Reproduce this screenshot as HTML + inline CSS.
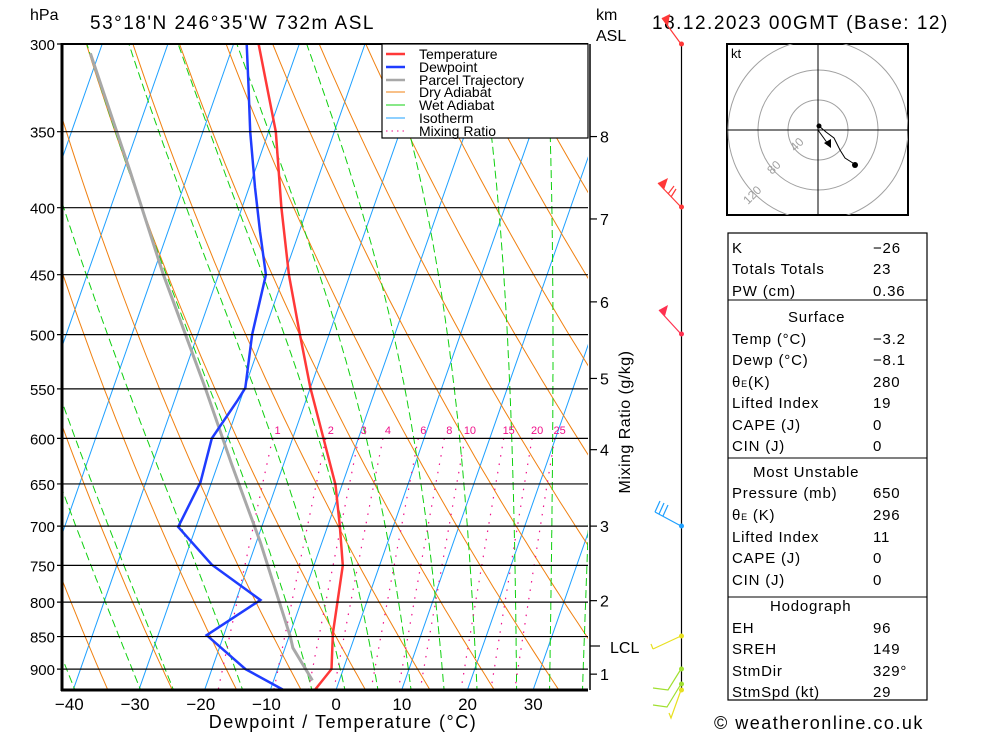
<!DOCTYPE html>
<html><head><meta charset="utf-8"><style>
html,body{margin:0;padding:0;background:#fff;}
svg{display:block;font-family:"Liberation Sans",sans-serif;}
</style></head><body>
<svg id="chart" width="1000" height="733" viewBox="0 0 1000 733" xmlns="http://www.w3.org/2000/svg">
<defs><clipPath id="plotclip"><rect x="62" y="44" width="526" height="646"/></clipPath></defs>
<g id="bg" clip-path="url(#plotclip)"></g>
<g id="series" clip-path="url(#plotclip)"></g>
<g id="axes"></g>
</svg>
<script>
// ---- data ----
const tempP = [933, 900, 845, 750, 701, 651, 600, 549, 498, 450, 400, 350, 300];
const tempT = [-3.2, -1.8, -3.5, -5.6, -8.1, -11.0, -15.3, -20.0, -24.6, -29.3, -34.0, -38.9, -46.2];
const dewP = [933, 900, 848, 797, 749, 701, 648, 600, 561, 549, 500, 450, 417, 386, 350, 323, 300];
const dewT = [-8.1, -14.9, -22.6, -16.3, -25.6, -32.7, -31.7, -32.3, -30.4, -29.9, -31.7, -32.8, -36.0, -39.1, -42.8, -45.5, -48.0];
const parcelP = [918, 867, 850, 720, 628, 549, 450, 375, 305];
const parcelT = [-4.1, -8.8, -9.8, -19.4, -27.9, -36.0, -48.4, -59.0, -71.3];
const pressureTicks = [300, 350, 400, 450, 500, 550, 600, 650, 700, 750, 800, 850, 900];
const tempTicks = [-40, -30, -20, -10, 0, 10, 20, 30];
const mixRatios = [1, 2, 3, 4, 6, 8, 10, 15, 20, 25];
const kmLabels = ["8", "7", "6", "5", "4", "3", "2", "1"];
const kmP = [353, 408, 472, 540, 612, 700, 798, 908];
const wetBaseT = [-49, -39, -29, -24, -13.5, -3, 2, 7, 12, 17, 22, 28, 33, 38];

// ---- scales ----
const NS = "http://www.w3.org/2000/svg";
function yP(p){ return 44 + 569*Math.log(p/300); }
function xT(T,p){ return 336 + 6.57*T + 0.35*(690 - yP(p)); }
function mk(tag, attrs, parent){ const e=document.createElementNS(NS,tag); for(const k in attrs) e.setAttribute(k, attrs[k]); parent.appendChild(e); return e; }
const bg=document.getElementById('bg'), ser=document.getElementById('series'), ax=document.getElementById('axes');
function polyPts(ps, ts){ return ps.map((p,i)=>xT(ts[i],p).toFixed(1)+','+yP(p).toFixed(1)).join(' '); }

// isotherms
for(let T=-110; T<=50; T+=10){
  const l=mk('line',{x1:xT(T,933),y1:yP(933),x2:xT(T,300),y2:yP(300),stroke:'#1ea0ff','stroke-width':1},bg);
  
  
}
// dry adiabats
for(let th=-60; th<=120; th+=10){
  const ps=[],ts=[];
  for(let p=300;p<=940;p+=10){ ps.push(p); ts.push((th+273.15)*Math.pow(p/1000,0.2857)-273.15); }
  const l=mk('polyline',{points:polyPts(ps,ts),fill:'none',stroke:'#f08010','stroke-width':1},bg);
  
  
}
// wet adiabats: integrate upward from 940 hPa starting temperature
function es(T){ return 6.112*Math.exp(17.67*T/(T+243.5)); }
function wetLine(t0){
  let T=t0+273.15, p=940;
  const ps=[],ts=[];
  while(p>=296){
    ps.push(p); ts.push(T-273.15);
    const e=es(T-273.15), rs=0.622*e/(p-e);
    const Lv=2.5e6, Rd=287, Cp=1004;
    const dTdp=(1/p)*(Rd*T+Lv*rs)/(Cp+Lv*Lv*rs*0.622/(Rd*T*T));
    T+=dTdp*(-2); p-=2;
  }
  return [ps,ts];
}
wetBaseT.forEach(t0=>{
  const [ps,ts]=wetLine(t0-0.3);
  const l=mk('polyline',{points:polyPts(ps,ts),fill:'none',stroke:'#10d010','stroke-width':1,'stroke-dasharray':'8,4'},bg);
  
  
});
// mixing ratio
function tdFromW(w,p){ const e=w*p/(622+w); const a=Math.log(e/6.112); return 243.5*a/(17.67-a); }
mixRatios.forEach(w=>{
  const ps=[],ts=[];
  for(let p=600;p<=940;p+=10){ ps.push(p); ts.push(tdFromW(w,p)); }
  const l=mk('polyline',{points:polyPts(ps,ts),fill:'none',stroke:'#f0108a','stroke-width':1.2,'stroke-dasharray':'1.5,7'},bg);
  
  
  const t=mk('text',{x:xT(tdFromW(w,600),600)+5,y:434,'font-size':11,fill:'#f0108a','text-anchor':'middle'},bg);
  t.textContent=w;
  
  
});
// pressure lines
pressureTicks.forEach(p=>{
  const l=mk('line',{x1:57,y1:yP(p),x2:588,y2:yP(p),stroke:'#000','stroke-width':1.2},ax);
  
  
  const t=mk('text',{x:55,y:yP(p)+6,'font-size':15,'text-anchor':'end',fill:'#000'},ax);
  t.textContent=p;
  
  
});
// series
const parcel=mk('polyline',{points:polyPts(parcelP,parcelT),fill:'none',stroke:'#a8a8a8','stroke-width':3},ser);


const dew=mk('polyline',{points:polyPts(dewP,dewT),fill:'none',stroke:'#1f3cff','stroke-width':2.5},ser);


const tmp=mk('polyline',{points:polyPts(tempP,tempT),fill:'none',stroke:'#ff3838','stroke-width':2.5},ser);


// frame
mk('line',{x1:62,y1:43,x2:62,y2:691,stroke:'#000','stroke-width':3},ax);
mk('line',{x1:61,y1:690,x2:588,y2:690,stroke:'#000','stroke-width':3},ax);
mk('line',{x1:62,y1:44,x2:588,y2:44,stroke:'#000','stroke-width':2},ax);
// x tick labels
tempTicks.forEach(T=>{
  const t=mk('text',{x:xT(T,933)+(T<0?-4:0),y:710,'font-size':17,'text-anchor':'middle',fill:'#000'},ax);
  t.textContent=(T<0?'\u2212'+(-T):T);
  
  
});
// km axis
mk('line',{x1:590,y1:44,x2:590,y2:690,stroke:'#000','stroke-width':1.5},ax);
kmLabels.forEach((k,i)=>{
  const y=yP(kmP[i]);
  mk('line',{x1:590,y1:y,x2:597,y2:y,stroke:'#000','stroke-width':1.2},ax);
  const t=mk('text',{x:600,y:y+6,'font-size':16,fill:'#000'},ax);
  t.textContent=k;
  
  
});
mk('line',{x1:590,y1:646,x2:600,y2:646,stroke:'#000','stroke-width':1.2},ax);
</script>
<svg width="1000" height="733" style="position:absolute;left:0;top:0" xmlns="http://www.w3.org/2000/svg" font-family="Liberation Sans, sans-serif">
<text x="30" y="20" font-size="16">hPa</text>
<text x="90" y="29" font-size="19" letter-spacing="1.5">53°18'N  246°35'W  732m  ASL</text>
<text x="596" y="20" font-size="16">km</text>
<text x="596" y="41" font-size="16">ASL</text>
<text x="652" y="29" font-size="19" letter-spacing="1.5">18.12.2023 00GMT (Base: 12)</text>
<text x="610" y="653" font-size="16">LCL</text>
<text transform="translate(630,422) rotate(-90)" font-size="16" text-anchor="middle" letter-spacing="0.5">Mixing Ratio (g/kg)</text>
<text x="343" y="728" font-size="18" text-anchor="middle" letter-spacing="1.5">Dewpoint / Temperature (°C)</text>
<g font-size="14">
<rect x="382" y="44" width="206" height="94" fill="#fff" stroke="#000" stroke-width="1.2"/>
<line x1="386" y1="54" x2="405" y2="54" stroke="#ff3838" stroke-width="2.5"/><text x="419" y="59">Temperature</text>
<line x1="386" y1="67" x2="405" y2="67" stroke="#1f3cff" stroke-width="2.5"/><text x="419" y="72">Dewpoint</text>
<line x1="386" y1="80" x2="405" y2="80" stroke="#a8a8a8" stroke-width="2.5"/><text x="419" y="85">Parcel Trajectory</text>
<line x1="386" y1="92" x2="405" y2="92" stroke="#f08010"/><text x="419" y="97">Dry Adiabat</text>
<line x1="386" y1="105" x2="405" y2="105" stroke="#10d010"/><text x="419" y="110">Wet Adiabat</text>
<line x1="386" y1="118" x2="405" y2="118" stroke="#1ea0ff"/><text x="419" y="123">Isotherm</text>
<line x1="386" y1="131" x2="405" y2="131" stroke="#f0108a" stroke-dasharray="1.5,4"/><text x="419" y="136">Mixing Ratio</text>
</g>
<g stroke-width="1.2">
<line x1="681.5" y1="44" x2="681.5" y2="690" stroke="#000"/>
<line x1="681" y1="44" x2="662" y2="18" stroke="#ff3838"/><polygon points="662,18 670,14 668,26" fill="#ff3838"/><circle cx="681.5" cy="44" r="2.5" fill="#ff3838"/>
<line x1="681" y1="207" x2="658" y2="183" stroke="#ff3838"/><polygon points="658,183 668,178 664,190" fill="#ff3838"/><line x1="668" y1="194" x2="674" y2="186" stroke="#ff3838"/><line x1="671" y1="197" x2="676" y2="189" stroke="#ff3838"/><circle cx="681.5" cy="207" r="2.5" fill="#ff3838"/>
<line x1="681" y1="334" x2="659" y2="310" stroke="#ff3050"/><polygon points="659,310 668,305 665,316" fill="#ff3050"/><circle cx="681.5" cy="334" r="2.5" fill="#ff3050"/>
<line x1="681" y1="526" x2="655" y2="512" stroke="#1ea0ff"/><line x1="655" y1="512" x2="660" y2="501" stroke="#1ea0ff"/><line x1="659" y1="514" x2="664" y2="503" stroke="#1ea0ff"/><line x1="663" y1="516" x2="668" y2="505" stroke="#1ea0ff"/><circle cx="681.5" cy="526" r="2.5" fill="#1ea0ff"/>
<line x1="681" y1="636" x2="653" y2="649" stroke="#e8e020"/><line x1="653" y1="649" x2="651" y2="644" stroke="#e8e020"/><circle cx="681.5" cy="636" r="2.5" fill="#e8e020"/>
<polyline points="681,669 668,690 653,688" fill="none" stroke="#a0e030"/><circle cx="681.5" cy="669" r="2.5" fill="#a0e030"/>
<polyline points="681,684 667,707 653,705" fill="none" stroke="#a0e030"/><circle cx="681.5" cy="684" r="2.5" fill="#a0e030"/>
<polyline points="681,690 671,718 669,713" fill="none" stroke="#e8e020"/><circle cx="681.5" cy="690" r="2.5" fill="#e8e020"/>
</g>
<g>
<defs><clipPath id="hodoclip"><rect x="727" y="44" width="181" height="171"/></clipPath></defs>
<rect x="727" y="44" width="181" height="171" fill="#fff" stroke="#000" stroke-width="2"/>
<g clip-path="url(#hodoclip)">
<circle cx="818" cy="130" r="30" fill="none" stroke="#a0a0a0"/>
<circle cx="818" cy="130" r="60" fill="none" stroke="#a0a0a0"/>
<circle cx="818" cy="130" r="90" fill="none" stroke="#a0a0a0"/>
</g>
<line x1="727" y1="130" x2="908" y2="130" stroke="#000"/>
<line x1="818" y1="44" x2="818" y2="215" stroke="#000"/>
<text x="731" y="58" font-size="13">kt</text>
<g fill="#a0a0a0" font-size="12"><text transform="translate(795,152) rotate(-45)">40</text><text transform="translate(772,175) rotate(-45)">80</text><text transform="translate(748,205) rotate(-45)">120</text></g>
<polyline points="819,126 826,132 834,138 840,150 845,158 856,165" fill="none" stroke="#000"/>
<circle cx="819" cy="126" r="2.5"/><circle cx="855" cy="165" r="3"/>
<line x1="818" y1="130" x2="828" y2="144" stroke="#000"/><polygon points="824,143 831,139 831,148"/>
</g>
<g font-size="15" letter-spacing="0.8">
<rect x="728" y="233" width="199" height="467" fill="none" stroke="#000" stroke-width="1.2"/>
<line x1="728" y1="300" x2="927" y2="300" stroke="#000"/><line x1="728" y1="458" x2="927" y2="458" stroke="#000"/><line x1="728" y1="597" x2="927" y2="597" stroke="#000"/>
<text x="732" y="253">K</text><text x="873" y="253">−26</text>
<text x="732" y="274">Totals Totals</text><text x="873" y="274">23</text>
<text x="732" y="296">PW (cm)</text><text x="873" y="296">0.36</text>
<text x="788" y="322">Surface</text>
<text x="732" y="344">Temp (°C)</text><text x="873" y="344">−3.2</text>
<text x="732" y="365">Dewp (°C)</text><text x="873" y="365">−8.1</text>
<text x="732" y="387">θ<tspan font-size="9">E</tspan>(K)</text><text x="873" y="387">280</text>
<text x="732" y="408">Lifted Index</text><text x="873" y="408">19</text>
<text x="732" y="430">CAPE (J)</text><text x="873" y="430">0</text>
<text x="732" y="451">CIN (J)</text><text x="873" y="451">0</text>
<text x="753" y="477">Most Unstable</text>
<text x="732" y="498">Pressure (mb)</text><text x="873" y="498">650</text>
<text x="732" y="520">θ<tspan font-size="9">E</tspan> (K)</text><text x="873" y="520">296</text>
<text x="732" y="542">Lifted Index</text><text x="873" y="542">11</text>
<text x="732" y="563">CAPE (J)</text><text x="873" y="563">0</text>
<text x="732" y="585">CIN (J)</text><text x="873" y="585">0</text>
<text x="770" y="611">Hodograph</text>
<text x="732" y="633">EH</text><text x="873" y="633">96</text>
<text x="732" y="654">SREH</text><text x="873" y="654">149</text>
<text x="732" y="676">StmDir</text><text x="873" y="676">329°</text>
<text x="732" y="697">StmSpd (kt)</text><text x="873" y="697">29</text>
</g>
<text x="714" y="729" font-size="18" letter-spacing="1.5">© weatheronline.co.uk</text>
</svg>
</body></html>
